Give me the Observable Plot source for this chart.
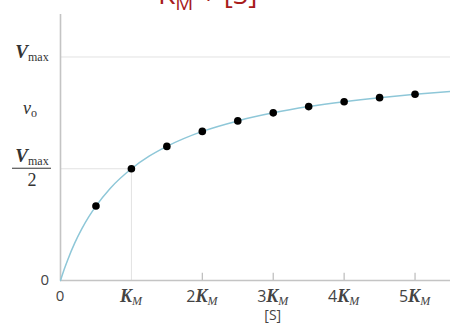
<!DOCTYPE html>
<html>
<head>
<meta charset="utf-8">
<script src="https://cdn.jsdelivr.net/npm/d3@7"></script>
<script src="https://cdn.jsdelivr.net/npm/@observablehq/plot@0.6"></script>
<style>
  html, body { margin: 0; padding: 0; background: #fff; }
  #wrap { position: relative; width: 450px; height: 323px; overflow: hidden; }
  #title { position: absolute; left: 158px; top: -26px; font-family: "Open Sans", sans-serif; font-size: 28px; color: #a81c1c; white-space: nowrap; }
  #title sub { font-size: 20px; vertical-align: -6px; }
  #chart { position: absolute; left: 0; top: 0; }
</style>
</head>
<body>
<div id="wrap">
  <div id="chart"></div>
  <div id="title">K<sub>M</sub> + [S]</div>
</div>
<script>
// measured points: substrate [S] in units of K_M, rate v0 in units of Vmax
const pointS = [0.5, 1, 1.5, 2, 2.5, 3, 3.5, 4, 4.5, 5];
const pointV = [0.333, 0.5, 0.6, 0.667, 0.714, 0.75, 0.778, 0.8, 0.818, 0.833];
// fitted curve
const curveS = [0, 0.05, 0.1, 0.2, 0.3, 0.4, 0.5, 0.7, 1, 1.25, 1.5, 2, 2.5, 3, 3.5, 4, 4.5, 5, 5.5];
const curveV = [0, 0.048, 0.091, 0.167, 0.231, 0.286, 0.333, 0.412, 0.5, 0.556, 0.6, 0.667, 0.714, 0.75, 0.778, 0.8, 0.818, 0.833, 0.846];
// axis labelling
const xTickValues = [1, 2, 3, 4, 5];
const xTickPrefix = ["", "2", "3", "4", "5"];
const xUpTicks = [2, 3, 4, 5];
const vmaxLevel = 1;
const halfLevel = 0.5;
const voLevel = 0.75;
const xLabel = "[S]";

const pts = pointS.map((s, i) => ({s, v: pointV[i]}));
const curve = curveS.map((s, i) => ({s, v: curveV[i]}));

const chart = Plot.plot({
  width: 450, height: 323,
  marginLeft: 60, marginRight: 0, marginTop: 14, marginBottom: 43,
  x: {domain: [0, 5.5], axis: null},
  y: {domain: [0, 1.19], axis: null},
  marks: [
    Plot.ruleY([vmaxLevel], {x1: 0, x2: 5.5, stroke: "#e2e2e2", strokeWidth: 1}),
    Plot.ruleY([halfLevel], {x1: 0, x2: 1, stroke: "#e2e2e2", strokeWidth: 1}),
    Plot.ruleX([1], {y1: 0, y2: halfLevel, stroke: "#e2e2e2", strokeWidth: 1}),
    Plot.ruleX(xUpTicks, {y1: 0, y2: 0.032, stroke: "#bbb", strokeWidth: 1.2}),
    Plot.ruleX([0], {stroke: "#c4c4c4", strokeWidth: 1.6}),
    Plot.ruleY([0], {stroke: "#c4c4c4", strokeWidth: 1.6}),
    Plot.line(curve, {x: "s", y: "v", stroke: "#8ec7d8", strokeWidth: 1.5, curve: "monotone-x"}),
    Plot.dot(pts, {x: "s", y: "v", r: 3.8, fill: "#000", stroke: "none"})
  ]
});
document.getElementById("chart").appendChild(chart);

const sx = chart.scale("x"), sy = chart.scale("y");
const svg = d3.select(chart);
const g = svg.append("g").attr("fill", "#333");
const serif = "'Liberation Serif', 'DejaVu Serif', serif";
const sans = "'Open Sans', 'Liberation Sans', sans-serif";

// x tick labels
xTickValues.forEach((v, i) => {
  const t = g.append("text")
    .attr("x", sx.apply(v)).attr("y", sy.apply(0) + 22)
    .attr("text-anchor", "middle").attr("font-size", 18);
  if (xTickPrefix[i]) t.append("tspan").attr("font-family", sans).attr("font-size", 16).attr("fill", "#444").text(xTickPrefix[i]);
  t.append("tspan").attr("font-family", serif).attr("font-style", "italic").attr("font-weight", 600).attr("fill", "#444").text("K");
  t.append("tspan").attr("font-family", serif).attr("font-style", "italic").attr("font-size", 12).attr("dy", 3).attr("fill", "#444").text("M");
});
g.append("text").attr("x", sx.apply(0)).attr("y", sy.apply(0) + 21)
  .attr("text-anchor", "middle").attr("font-family", sans).attr("font-size", 15).attr("fill", "#444").text("0");
g.append("text").attr("x", sx.apply(3)).attr("y", sy.apply(0) + 40)
  .attr("text-anchor", "middle").attr("font-family", sans).attr("font-size", 14).attr("fill", "#444").text(xLabel);

// y labels
const ly = 36;
g.append("text").attr("x", 49).attr("y", sy.apply(0) + 5)
  .attr("text-anchor", "end").attr("font-family", sans).attr("font-size", 15).attr("fill", "#444").text("0");
function vmax(x, y) {
  const t = g.append("text").attr("x", x).attr("y", y).attr("text-anchor", "middle").attr("font-family", serif).attr("fill", "#333");
  t.append("tspan").attr("font-style", "italic").attr("font-weight", 600).attr("font-size", 19).text("V");
  t.append("tspan").attr("font-size", 12).attr("dy", 3).text("max");
}
vmax(ly - 4, sy.apply(vmaxLevel) + 2);
const vo = g.append("text").attr("x", ly - 6).attr("y", sy.apply(voLevel) + 2).attr("text-anchor", "middle").attr("font-family", serif).attr("fill", "#333");
vo.append("tspan").attr("font-style", "italic").attr("font-size", 18).text("v");
vo.append("tspan").attr("font-size", 12).attr("dy", 3).text("o");
vmax(ly - 4, sy.apply(halfLevel) - 6);
g.append("line").attr("x1", ly - 24).attr("x2", ly + 15).attr("y1", sy.apply(halfLevel)).attr("y2", sy.apply(halfLevel)).attr("stroke", "#333").attr("stroke-width", 1);
g.append("text").attr("x", ly - 4).attr("y", sy.apply(halfLevel) + 18).attr("text-anchor", "middle").attr("font-family", serif).attr("font-size", 18).attr("fill", "#333").text("2");
</script>
</body>
</html>
